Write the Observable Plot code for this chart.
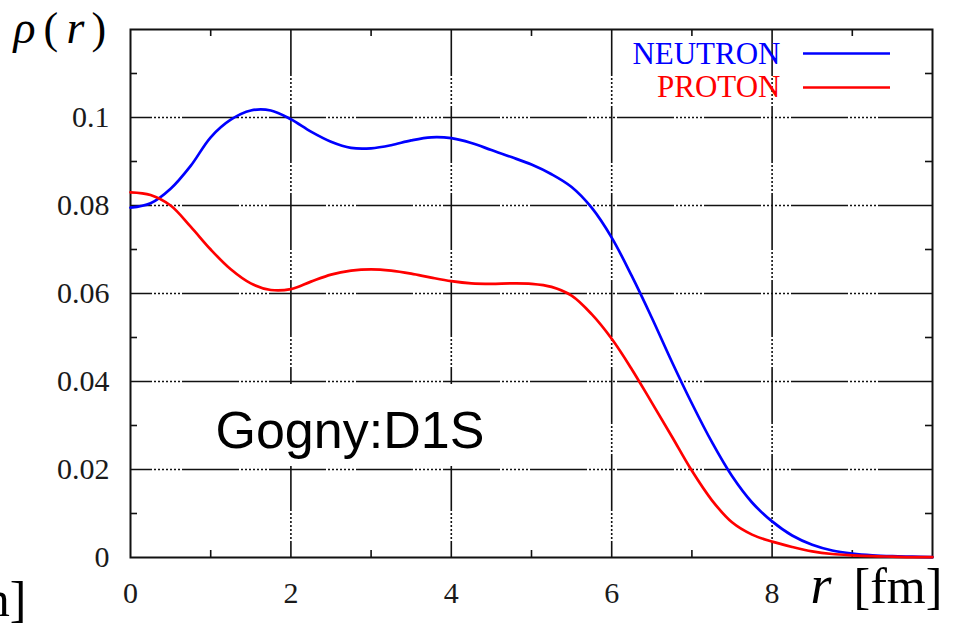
<!DOCTYPE html>
<html>
<head>
<meta charset="utf-8">
<script src="https://cdn.jsdelivr.net/npm/d3@7"></script>
<script src="https://cdn.jsdelivr.net/npm/@observablehq/plot@0.6"></script>
<style>
  html, body { margin: 0; padding: 0; background: #ffffff; }
  #chart { width: 954px; height: 624px; overflow: hidden; }
</style>
</head>
<body>
<div id="chart"></div>
<script>
// ---- data ----
const radius = [0,0.25,0.5,0.75,1,1.25,1.5,1.75,2,2.25,2.5,2.75,3,3.25,3.5,3.75,4,4.25,4.5,4.75,5,5.25,5.5,5.75,6,6.25,6.5,6.75,7,7.25,7.5,7.75,8,8.25,8.5,8.75,9,9.25,9.5,9.75,10];
const neutron = [0.0795,0.0805,0.0838,0.0890,0.0955,0.0995,0.1016,0.1016,0.0996,0.0968,0.0945,0.0931,0.0930,0.0937,0.0948,0.0955,0.0953,0.0942,0.0926,0.0910,0.0893,0.0871,0.0842,0.0795,0.0727,0.0640,0.0545,0.0445,0.0350,0.0262,0.0185,0.0125,0.0082,0.0050,0.0029,0.0016,0.0009,0.0005,0.0003,0.0002,0.0001];
const proton = [0.0830,0.0824,0.0800,0.0752,0.0700,0.0655,0.0623,0.0608,0.0610,0.0627,0.0643,0.0652,0.0655,0.0652,0.0645,0.0636,0.0628,0.0623,0.0622,0.0623,0.0622,0.0615,0.0595,0.0553,0.0497,0.0428,0.0352,0.0275,0.0197,0.0130,0.0080,0.0052,0.0036,0.0024,0.0014,0.0008,0.0005,0.0003,0.0002,0.0001,0.0001];
const seriesNames = ["NEUTRON", "PROTON"];
const seriesColors = ["#0000ff", "#ff0000"];
const xTicks = [0, 2, 4, 6, 8];
const yTicks = [0, 0.02, 0.04, 0.06, 0.08, 0.1];
const xGrid = [2, 4, 6, 8];
const yGrid = [0.02, 0.04, 0.06, 0.08, 0.1];
const xMinor = [1, 3, 5, 7, 9];
const yMinor = [0.01, 0.03, 0.05, 0.07, 0.09, 0.11];
const annotation = "Gogny:D1S";

// ---- build table ----
const rows = [];
seriesNames.forEach((name, k) => {
  const vals = k === 0 ? neutron : proton;
  radius.forEach((rv, i) => rows.push({r: rv, rho: vals[i], series: name}));
});

const W = 954, H = 624;
const mL = 130, mR = 22, mT = 29, mB = 67;
const xDom = [0, 10], yDom = [0, 0.12];
const pxX = (W - mL - mR) / (xDom[1] - xDom[0]);
const pxY = (H - mT - mB) / (yDom[1] - yDom[0]);
const toX = px => (px - mL) / pxX;          // pixel -> data (for annotations)
const toY = py => yDom[1] - (py - mT) / pxY;

// gnuplot-like grid: long solid dash, then a run of dots
const dotRun = Array(7).fill("2,2").join(",");
const gridDash = "57," + dotRun + ",2";

const serif = "'Liberation Serif', 'Times New Roman', serif";
const sans = "'Liberation Sans', Arial, sans-serif";
const tickLen = 7;
const fmt = d => d === 0 ? "0" : String(+d.toFixed(2));
const txt = (str, opts) => Plot.text([str], {text: d => d, textAnchor: "start", lineAnchor: "bottom", fontFamily: serif, fill: "#000", ...opts});

const chart = Plot.plot({
  width: W,
  height: H,
  marginLeft: mL, marginRight: mR, marginTop: mT, marginBottom: mB,
  x: {domain: xDom, axis: null, label: null},
  y: {domain: yDom, axis: null, label: null},
  color: {domain: seriesNames, range: seriesColors},
  style: {background: "#ffffff", overflow: "visible"},
  marks: [
    // grid
    Plot.ruleX(xGrid, {stroke: "#111", strokeWidth: 1.6, strokeDasharray: gridDash, strokeDashoffset: 10}),
    Plot.ruleY(yGrid, {stroke: "#111", strokeWidth: 1.6, strokeDasharray: gridDash, strokeDashoffset: 35}),
    // minor ticks (inward, all four sides)
    Plot.ruleX(xMinor, {y1: yDom[0], y2: yDom[0] + tickLen / pxY, stroke: "#111", strokeWidth: 1.6}),
    Plot.ruleX(xMinor, {y1: yDom[1], y2: yDom[1] - tickLen / pxY, stroke: "#111", strokeWidth: 1.6}),
    Plot.ruleY(yMinor, {x1: xDom[0], x2: xDom[0] + tickLen / pxX, stroke: "#111", strokeWidth: 1.6}),
    Plot.ruleY(yMinor, {x1: xDom[1], x2: xDom[1] - tickLen / pxX, stroke: "#111", strokeWidth: 1.6}),
    // annotation box
    Plot.rect([annotation], {x1: toX(193), x2: toX(507), y1: toY(466), y2: toY(384), fill: "#ffffff"}),
    txt(annotation, {frameAnchor: "top-left", dx: 85, dy: 418, fontFamily: sans, fontSize: 52}),
    // frame
    Plot.frame({stroke: "#111", strokeWidth: 2}),
    // curves
    Plot.line(rows, {x: "r", y: "rho", z: "series", stroke: "series", curve: "catmull-rom", strokeWidth: 2.7}),
    // axes labels
    Plot.axisY({ticks: yTicks, tickFormat: fmt, tickSize: 0, tickPadding: 21, label: null, fontSize: 30, fontFamily: serif, fill: "#1a1a1a"}),
    Plot.axisX({ticks: xTicks, tickFormat: fmt, tickSize: 0, tickPadding: 24, label: null, fontSize: 30, fontFamily: serif, fill: "#1a1a1a"}),
    // legend
    txt(seriesNames[0], {frameAnchor: "top-left", dx: 650, dy: 34, textAnchor: "end", fontSize: 31, fill: seriesColors[0]}),
    txt(seriesNames[1], {frameAnchor: "top-left", dx: 650, dy: 67, textAnchor: "end", fontSize: 31, fill: seriesColors[1]}),
    Plot.ruleY([toY(53)], {x1: toX(803), x2: toX(890), stroke: seriesColors[0], strokeWidth: 2.7}),
    Plot.ruleY([toY(87)], {x1: toX(803), x2: toX(890), stroke: seriesColors[1], strokeWidth: 2.7}),
    // axis titles
    txt("ρ", {frameAnchor: "top-left", dx: -117, dy: 13, fontStyle: "italic", fontSize: 46}),
    txt("(", {frameAnchor: "top-left", dx: -87, dy: 13, fontSize: 44}),
    txt("r", {frameAnchor: "top-left", dx: -64, dy: 13, fontStyle: "italic", fontSize: 46}),
    txt(")", {frameAnchor: "top-left", dx: -39, dy: 13, fontSize: 44}),
    txt("r", {frameAnchor: "bottom-left", dx: 680, dy: 45, fontStyle: "italic", fontSize: 54}),
    txt("[fm]", {frameAnchor: "bottom-left", dx: 723, dy: 45, fontSize: 50}),
    txt("[fm]", {frameAnchor: "bottom-left", dx: -104, dy: 58, textAnchor: "end", fontSize: 50})
  ]
});
document.getElementById("chart").appendChild(chart);
</script>
</body>
</html>
